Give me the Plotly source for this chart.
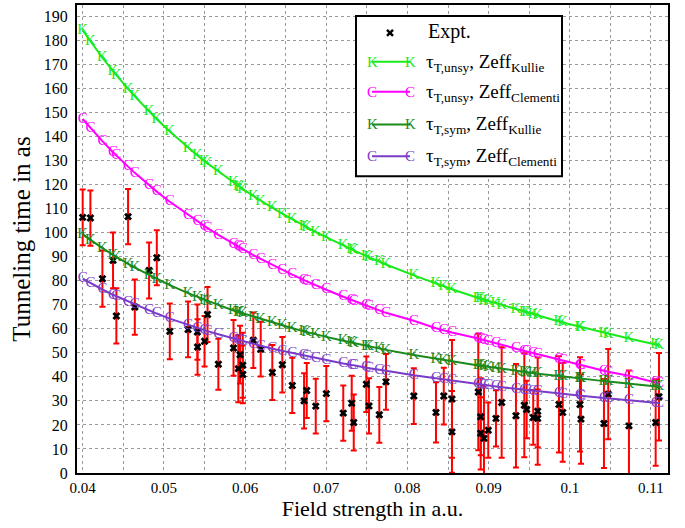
import plotly.graph_objects as go

# ---------------- data ----------------
field_exp = [0.0400, 0.04095, 0.04243, 0.04374, 0.04415, 0.04559, 0.04642, 0.04818, 0.04913, 0.05073,
             0.05298, 0.05413, 0.05415, 0.05501, 0.05538, 0.05671, 0.05858, 0.05917, 0.05938, 0.05972,
             0.05972, 0.06102, 0.06193, 0.06336, 0.06459, 0.06582, 0.06727, 0.0676, 0.06871, 0.07001,
             0.0721, 0.07314, 0.07339, 0.07494, 0.07527, 0.07654, 0.07736, 0.08079, 0.08352, 0.08448,
             0.08549, 0.08549, 0.08873, 0.08903, 0.08903, 0.08943, 0.08996, 0.09091, 0.09161, 0.09337,
             0.0944, 0.09469, 0.0955, 0.09605, 0.09605, 0.09867, 0.09913, 0.10126, 0.10138, 0.10421,
             0.10474, 0.10729, 0.11058, 0.11099]
tau_exp = [106.3, 106.0, 80.8, 88.4, 65.3, 106.6, 69.0, 84.2, 89.5, 58.9,
           59.7, 58.6, 52.4, 54.8, 65.9, 45.2, 52.0, 43.4, 49.2, 44.8,
           41.0, 55.2, 51.5, 41.8, 45.0, 36.4, 30.0, 34.3, 27.8, 33.0,
           24.9, 29.0, 21.0, 36.9, 27.9, 24.2, 37.9, 32.0, 25.2, 32.0,
           30.8, 17.1, 33.7, 23.4, 16.5, 14.4, 17.8, 22.7, 29.3, 23.8,
           28.2, 26.4, 23.1, 25.7, 22.7, 28.5, 25.2, 28.5, 22.4, 20.6,
           32.8, 19.6, 21.0, 31.7]
tau_err = [11.6, 11.5, 11.7, 11.6, 11.5, 11.5, 11.5, 11.6, 11.4, 11.6,
           11.6, 11.5, 11.5, 10.5, 11.4, 10.6, 11.6, 14.0, 12.0, 13.5,
           12.0, 11.5, 11.4, 11.4, 11.5, 11.5, 11.5, 11.4, 11.4, 11.5,
           11.5, 11.4, 11.6, 11.5, 11.5, 11.6, 11.6, 11.6, 12.5, 11.8,
           24.5, 17.0, 24.2, 16.0, 15.0, 22.0, 11.5, 11.7, 23.0, 21.5,
           21.6, 12.0, 11.4, 22.3, 12.0, 20.0, 20.5, 19.6, 18.6, 18.5,
           18.8, 23.0, 18.0, 18.2]

field_th = [0.0400, 0.04095, 0.04243, 0.04374, 0.04415, 0.04559, 0.04642, 0.04818, 0.04913, 0.05073,
            0.05298, 0.05414, 0.05501, 0.05538, 0.05671, 0.05858, 0.05917, 0.05938, 0.05972, 0.06102,
            0.06193, 0.06336, 0.06459, 0.06582, 0.06727, 0.0676, 0.06871, 0.07001, 0.0721, 0.07314,
            0.07339, 0.07494, 0.07527, 0.07654, 0.07736, 0.08079, 0.08352, 0.08448, 0.08549, 0.08873,
            0.08903, 0.08943, 0.08996, 0.09091, 0.09161, 0.09337, 0.0944, 0.09469, 0.0955, 0.09605,
            0.09867, 0.09913, 0.10126, 0.10138, 0.10421, 0.10474, 0.10729, 0.11058, 0.11099]
tau_unsy_kullie = [184.0, 179.4, 172.7, 167.1, 165.4, 159.7, 156.6, 150.3, 147.1, 142.0,
                   135.2, 132.0, 129.6, 128.7, 125.3, 120.7, 119.3, 118.9, 118.1, 115.2,
                   113.2, 110.3, 107.8, 105.4, 102.8, 102.2, 100.2, 98.0, 94.6, 92.9,
                   92.6, 90.2, 89.7, 87.9, 86.7, 82.2, 78.7, 77.6, 76.4, 72.8,
                   72.5, 72.0, 71.5, 70.5, 69.8, 68.0, 67.0, 66.7, 65.9, 65.4,
                   63.0, 62.6, 60.8, 60.7, 58.3, 57.9, 55.9, 53.4, 53.1]
tau_unsy_clementi = [147.2, 143.5, 138.0, 133.4, 132.0, 127.4, 124.8, 119.7, 117.0, 112.8,
                     107.3, 104.6, 102.6, 101.8, 99.0, 95.2, 94.1, 93.7, 93.0, 90.6,
                     89.0, 86.5, 84.4, 82.5, 80.2, 79.7, 78.1, 76.2, 73.3, 71.9,
                     71.6, 69.6, 69.2, 67.6, 66.6, 63.3, 60.2, 59.3, 58.4, 55.9,
                     55.6, 55.3, 54.8, 53.9, 53.3, 51.7, 50.8, 50.6, 49.9, 49.4,
                     47.1, 46.8, 44.8, 44.7, 42.5, 42.1, 40.4, 37.6, 37.3]
tau_sym_kullie = [99.2, 96.9, 93.5, 90.7, 89.8, 87.0, 85.4, 82.3, 80.7, 78.1,
                  74.8, 73.2, 72.0, 71.6, 69.9, 67.6, 67.0, 66.7, 66.3, 64.9,
                  64.0, 62.5, 61.3, 60.2, 58.9, 58.6, 57.7, 56.6, 55.0, 54.2,
                  54.0, 52.9, 52.6, 51.8, 51.2, 49.1, 47.5, 46.9, 46.4, 44.7,
                  44.6, 44.4, 44.1, 43.6, 43.3, 42.5, 42.1, 41.9, 41.6, 41.3,
                  40.3, 40.1, 39.3, 39.2, 38.2, 38.0, 37.1, 36.0, 35.9]
tau_sym_clementi = [80.8, 79.0, 76.3, 74.1, 73.5, 71.2, 70.0, 67.5, 66.3, 64.2,
                    61.6, 60.3, 59.4, 59.0, 57.7, 55.9, 55.3, 55.1, 54.8, 53.7,
                    52.9, 51.7, 50.8, 49.8, 48.8, 48.5, 47.8, 46.9, 45.5, 44.9,
                    44.8, 43.8, 43.6, 42.9, 42.5, 40.6, 39.3, 38.8, 38.4, 36.9,
                    36.8, 36.6, 36.4, 36.0, 35.7, 35.0, 34.6, 34.5, 34.2, 34.0,
                    33.1, 32.9, 32.2, 32.1, 31.2, 31.0, 30.2, 29.2, 29.1]

series_names = ["τ<sub>T,unsy</sub>, Zeff<sub>Kullie</sub>",
                "τ<sub>T,unsy</sub>, Zeff<sub>Clementi</sub>",
                "τ<sub>T,sym</sub>, Zeff<sub>Kullie</sub>",
                "τ<sub>T,sym</sub>, Zeff<sub>Clementi</sub>"]
series_letters = ["K", "C", "K", "C"]
series_values = [tau_unsy_kullie, tau_unsy_clementi, tau_sym_kullie, tau_sym_clementi]
series_colors = ["#1aea1a", "#ff00ff", "#1a8a1a", "#7a3cc8"]

FONT = "Liberation Serif"

fig = go.Figure()

fig.add_trace(go.Scatter(
    x=field_exp, y=tau_exp, mode="markers", name="Expt.",
    marker=dict(symbol="x", size=7, color="black"),
    error_y=dict(type="data", array=tau_err, color="red", thickness=2, width=3),
    showlegend=False))

for name, letter, vals, col in zip(series_names, series_letters, series_values, series_colors):
    fig.add_trace(go.Scatter(
        x=field_th, y=vals, mode="lines+text", name=name,
        text=[letter] * len(vals), textposition="middle center",
        textfont=dict(family=FONT, size=15, color=col),
        line=dict(color=col, width=2), showlegend=False))

grid = dict(showgrid=True, gridcolor="#9a9a9a", griddash="dot", gridwidth=1)

fig.update_layout(
    width=685, height=528,
    margin=dict(l=77, r=17, t=3, b=55),
    paper_bgcolor="white", plot_bgcolor="white",
    font=dict(family=FONT, color="black"),
    xaxis=dict(range=[0.0393, 0.1121], tick0=0.04, dtick=0.01,
               minor=dict(dtick=0.005, tick0=0.04, **grid),
               showline=True, linecolor="black", linewidth=2, mirror=True,
               zeroline=False, ticks="", ticklen=0,
               tickfont=dict(family=FONT, size=15),
               title=dict(text="Field strength in a.u.", font=dict(family=FONT, size=22), standoff=6),
               **grid),
    yaxis=dict(range=[0, 194.6], tick0=0, dtick=10,
               showline=True, linecolor="black", linewidth=2, mirror=True,
               zeroline=False, ticks="outside", ticklen=4, tickcolor="rgba(0,0,0,0)",
               tickfont=dict(family=FONT, size=16),
               title=dict(text="Tunneling time in as", font=dict(family=FONT, size=25), standoff=6),
               **grid),
)

# ---------------- custom legend (box, sample lines, letters, labels) ----------------
def px(xp):
    return (xp - 77) / 591.0

def py(yp):
    return (473 - yp) / 470.0

shapes = [dict(type="rect", xref="paper", yref="paper", x0=px(356), x1=px(562), y0=py(175), y1=py(14),
               line=dict(color="black", width=2), fillcolor="white", layer="above")]
# Expt. marker
shapes.append(dict(type="line", xref="paper", yref="paper", x0=px(387), x1=px(393), y0=py(28), y1=py(34),
                   line=dict(color="black", width=2.5), layer="above"))
shapes.append(dict(type="line", xref="paper", yref="paper", x0=px(387), x1=px(393), y0=py(34), y1=py(28),
                   line=dict(color="black", width=2.5), layer="above"))
annotations = [dict(xref="paper", yref="paper", x=px(426), y=py(30), xanchor="left", yanchor="middle",
                    text="Expt.", showarrow=False, font=dict(family=FONT, size=20, color="black"))]
row_y = [60, 90, 123, 155]
for yy, name, letter, col in zip(row_y, series_names, series_letters, series_colors):
    shapes.append(dict(type="line", xref="paper", yref="paper", x0=px(372), x1=px(410), y0=py(yy), y1=py(yy),
                       line=dict(color=col, width=2), layer="above"))
    for xx in (372, 410):
        annotations.append(dict(xref="paper", yref="paper", x=px(xx), y=py(yy), xanchor="center",
                                yanchor="middle", text=letter, showarrow=False,
                                font=dict(family=FONT, size=15, color=col)))
    annotations.append(dict(xref="paper", yref="paper", x=px(424), y=py(yy + 1), xanchor="left",
                            yanchor="middle", text=name, showarrow=False,
                            font=dict(family=FONT, size=19, color="black")))

fig.update_layout(shapes=shapes, annotations=annotations)

fig.write_html("out.html", config={"displayModeBar": False},
               post_script="document.body.style.margin='0';")
